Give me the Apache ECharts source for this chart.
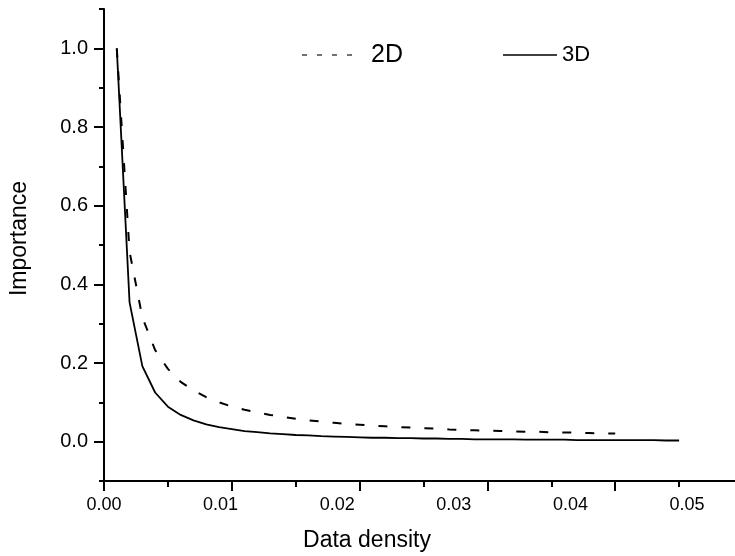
<!DOCTYPE html>
<html>
<head>
<meta charset="utf-8">
<script src="https://cdn.jsdelivr.net/npm/echarts@6/dist/echarts.min.js"></script>
<style>
html,body{margin:0;padding:0;background:#fff;}
#chart{width:735px;height:556px;}
</style>
</head>
<body>
<div id="chart"></div>
<script>
// ---- data ----
const density2D = [0.001,0.002,0.003,0.004,0.005,0.006,0.007,0.008,0.009,0.010,
  0.011,0.012,0.013,0.014,0.015,0.016,0.017,0.018,0.019,0.020,
  0.021,0.022,0.023,0.024,0.025,0.026,0.027,0.028,0.029,0.030,
  0.031,0.032,0.033,0.034,0.035,0.036,0.037,0.038,0.039,0.040];
const importance2D = [1.000,0.483,0.316,0.233,0.185,0.152,0.130,0.113,0.100,0.089,
  0.081,0.074,0.068,0.063,0.058,0.054,0.051,0.048,0.045,0.043,
  0.041,0.039,0.037,0.036,0.034,0.033,0.031,0.030,0.029,0.028,
  0.027,0.026,0.025,0.025,0.024,0.023,0.023,0.022,0.021,0.021];
const density3D = [0.001,0.002,0.003,0.004,0.005,0.006,0.007,0.008,0.009,0.010,
  0.011,0.012,0.013,0.014,0.015,0.016,0.017,0.018,0.019,0.020,
  0.021,0.022,0.023,0.024,0.025,0.026,0.027,0.028,0.029,0.030,
  0.031,0.032,0.033,0.034,0.035,0.036,0.037,0.038,0.039,0.040,
  0.041,0.042,0.043,0.044,0.045];
const importance3D = [1.000,0.354,0.192,0.125,0.089,0.068,0.054,0.044,0.037,0.032,
  0.027,0.024,0.021,0.019,0.017,0.016,0.014,0.013,0.012,0.011,
  0.010,0.010,0.009,0.009,0.008,0.008,0.007,0.007,0.006,0.006,
  0.006,0.006,0.005,0.005,0.005,0.005,0.004,0.004,0.004,0.004,
  0.004,0.004,0.004,0.003,0.003];
const seriesNames = ['2D', '3D'];
const xTickLabels = ['0.00','0.01','0.02','0.03','0.04','0.05'];
const yTickLabels = ['','0.0','','0.2','','0.4','','0.6','','0.8','','1.0',''];

const FONT = "'Liberation Sans', Arial, sans-serif";
const chart = echarts.init(document.getElementById('chart'), null, {renderer:'canvas'});

const option = {
  animation: false,
  backgroundColor: '#fff',
  textStyle: {fontFamily: FONT, color: '#000'},
  grid: {left: 104, right: -8, top: 9, bottom: 75, containLabel: false, outerBoundsMode: 'none'},
  // legend keys (line samples + labels)
  graphic: [
    {type: 'line', shape: {x1: 302, y1: 55, x2: 362, y2: 55},
     style: {stroke: '#444', lineWidth: 1.3, lineDash: [5, 10]}},
    {type: 'text', x: 371, y: 55,
     style: {text: seriesNames[0], fontSize: 25, fontFamily: FONT, fill: '#000', verticalAlign: 'middle', align: 'left'}},
    {type: 'line', shape: {x1: 503, y1: 55, x2: 557, y2: 55},
     style: {stroke: '#000', lineWidth: 1.5}},
    {type: 'text', x: 562, y: 55,
     style: {text: seriesNames[1], fontSize: 22, fontFamily: FONT, fill: '#000', verticalAlign: 'middle', align: 'left'}}
  ],
  xAxis: [
    {
      type: 'value', min: 0, max: 0.05, interval: 0.01, position: 'bottom',
      name: 'Data density', nameLocation: 'middle', nameGap: 48,
      nameTextStyle: {fontSize: 23, color: '#000', fontFamily: FONT, padding: [0, 113, 0, 0]},
      axisLine: {show: true, onZero: false, lineStyle: {color: '#000', width: 2}},
      axisTick: {show: true, inside: false, length: 10, lineStyle: {color: '#000', width: 2}},
      minorTick: {show: true, splitNumber: 2, length: 6, lineStyle: {color: '#000', width: 2}},
      axisLabel: {show: false},
      splitLine: {show: false}, minorSplitLine: {show: false}
    },
    {
      type: 'value', min: 0, max: 0.0548, interval: 0.01, position: 'bottom',
      axisLine: {show: false}, axisTick: {show: false},
      axisLabel: {show: true, fontSize: 18, color: '#000', fontFamily: FONT, margin: 15, showMaxLabel: false,
        formatter: v => { const i = Math.round(v / 0.01); return (Math.abs(v - i * 0.01) < 1e-9 && xTickLabels[i]) ? xTickLabels[i] : ''; }},
      splitLine: {show: false}
    }
  ],
  yAxis: [
    {
      type: 'value', min: -0.1, max: 1.1, interval: 0.1, position: 'left',
      name: 'Importance', nameLocation: 'middle', nameGap: 73, nameRotate: 90,
      nameTextStyle: {fontSize: 23, color: '#000', fontFamily: FONT, padding: [0, 0, 0, 13]},
      axisLine: {show: true, onZero: false, lineStyle: {color: '#000', width: 2}},
      axisTick: {show: true, length: 5, lineStyle: {color: '#000', width: 2}},
      axisLabel: {show: false},
      splitLine: {show: false}
    },
    {
      type: 'category', data: yTickLabels, boundaryGap: false, position: 'left',
      axisLine: {show: false},
      axisTick: {show: true, length: 10, interval: (i) => i % 2 === 1, lineStyle: {color: '#000', width: 2}},
      axisLabel: {show: true, interval: (i) => i % 2 === 1, fontSize: 20, color: '#000', fontFamily: FONT, margin: 16},
      splitLine: {show: false}
    }
  ],
  series: [
    {
      name: seriesNames[0], type: 'line', xAxisIndex: 0, yAxisIndex: 0, symbol: 'none', showSymbol: false,
      data: density2D.map((x, i) => [x, importance2D[i]]),
      lineStyle: {color: '#000', width: 2, type: [9, 14]},
      itemStyle: {color: '#000'}
    },
    {
      name: seriesNames[1], type: 'line', xAxisIndex: 0, yAxisIndex: 0, symbol: 'none', showSymbol: false,
      data: density3D.map((x, i) => [x, importance3D[i]]),
      lineStyle: {color: '#000', width: 1.8, type: 'solid'},
      itemStyle: {color: '#000'}
    }
  ]
};
chart.setOption(option);
</script>
</body>
</html>
